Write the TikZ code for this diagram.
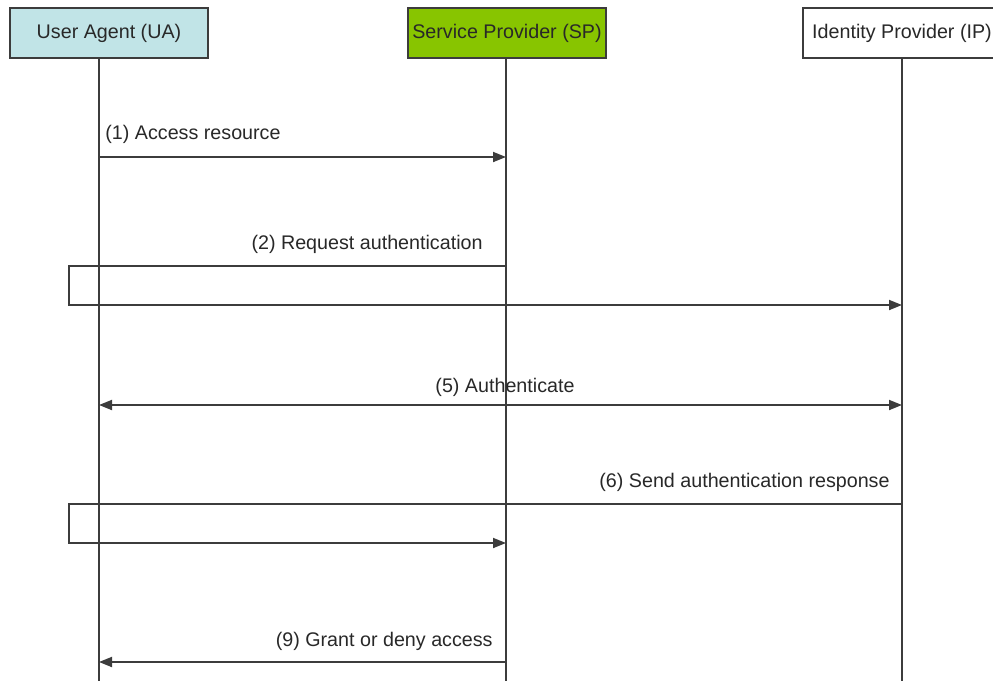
\documentclass[tikz,border=0pt]{standalone}
\usepackage{fontspec}
\setmainfont{Liberation Sans}
\usetikzlibrary{arrows.meta}
\definecolor{uafill}{RGB}{193,228,231}
\definecolor{spfill}{RGB}{136,197,0}
\definecolor{ink}{RGB}{60,60,60}
\definecolor{txt}{RGB}{40,40,40}
\begin{document}
\begin{tikzpicture}[x=0.5pt,y=-0.5pt,
  font=\fontsize{9.85}{12}\selectfont,
  actor/.style={draw=ink, line width=1pt, minimum width=99pt, minimum height=25pt, inner sep=0pt, text=txt},
  life/.style={draw=ink, line width=0.9pt},
  msg/.style={draw=ink, line width=0.9pt, -{Triangle[length=6.5pt,width=5pt]}},
  dmsg/.style={draw=ink, line width=0.9pt, {Triangle[length=6.5pt,width=5pt]}-{Triangle[length=6.5pt,width=5pt]}},
  lbl/.style={inner sep=0pt, text=txt}]
\useasboundingbox (0,0) rectangle (993,681);
\clip (0,0) rectangle (993,681);
% actors
\node[actor, fill=uafill] (ua) at (109,33) {User Agent (UA)};
\node[actor, fill=spfill] (sp) at (507,33) {Service Provider (SP)};
\node[actor, fill=white] (ip) at (902,33) {Identity Provider (IP)};
% lifeline coordinates
\coordinate (uaT) at (99,58);
\coordinate (spT) at (506,58);
\coordinate (ipT) at (902,58);
\coordinate (uaB) at (99,700);
\coordinate (spB) at (506,700);
\coordinate (ipB) at (902,700);
\draw[life] (uaT) -- (uaB);
\draw[life] (spT) -- (spB);
\draw[life] (ipT) -- (ipB);
% loop corners
\coordinate (l2a) at (69,266);
\coordinate (l2b) at (69,305);
\coordinate (l6a) at (69,504);
\coordinate (l6b) at (69,543);
% (1)
\draw[msg] (uaT |- 0,157) -- (spT |- 0,157);
\node[lbl, anchor=west] (t1) at (105,134) {(1) Access resource};
% (2)
\draw[msg] (spT |- l2a) -- (l2a) -- (l2b) -- (ipT |- l2b);
\node[lbl, anchor=east] (t2) at (483,244) {(2) Request authentication};
% (5)
\draw[dmsg] (uaT |- 0,405) -- (ipT |- 0,405);
\node[lbl] (t5) at (505,387) {(5) Authenticate};
% (6)
\draw[msg] (ipT |- l6a) -- (l6a) -- (l6b) -- (spT |- l6b);
\node[lbl, anchor=east] (t6) at (890,482) {(6) Send authentication response};
% (9)
\draw[msg] (spT |- 0,662) -- (uaT |- 0,662);
\node[lbl, anchor=east] (t9) at (493,641) {(9) Grant or deny access};
\end{tikzpicture}
\end{document}
